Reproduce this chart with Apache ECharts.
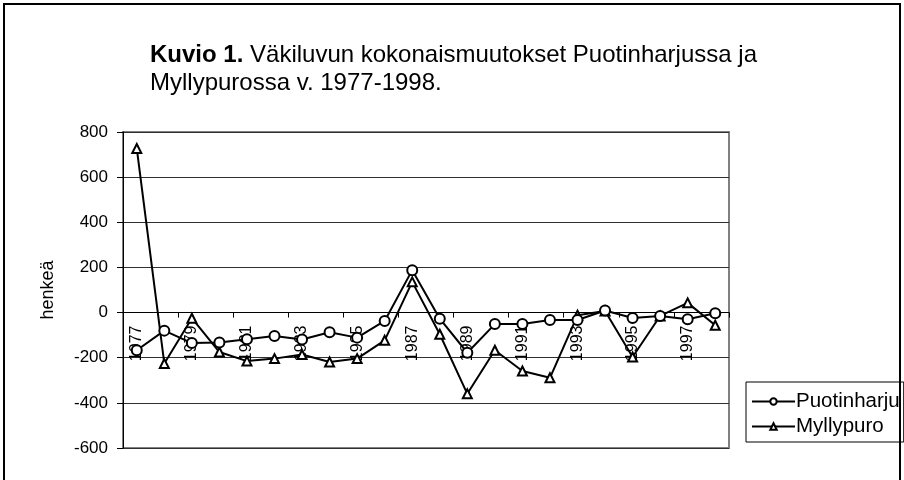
<!DOCTYPE html>
<html lang="fi">
<head>
<meta charset="UTF-8">
<title>Kuvio 1</title>
<style>
  html, body { margin: 0; padding: 0; background: #fff; }
  #main { width: 904px; height: 480px; }
</style>
</head>
<body>
<div id="main"></div>
<script src="https://cdn.jsdelivr.net/npm/echarts@6/dist/echarts.min.js"></script>
<script>
// vuodet
const years = ['1977', '1978', '1979', '1980', '1981', '1982', '1983', '1984', '1985', '1986', '1987',
  '1988', '1989', '1990', '1991', '1992', '1993', '1994', '1995', '1996', '1997', '1998'];
// väkiluvun muutos, henkeä
const puotinharju = [-167, -80, -135, -133, -118, -104, -119, -87, -111, -37, 188,
  -27, -178, -51, -51, -33, -33, 9, -24, -15, -30, -3];
const myllypuro = [727, -226, -25, -175, -215, -204, -186, -219, -204, -123, 136,
  -96, -360, -167, -259, -289, -12, 7, -197, -15, 43, -56];
const yTicks = { min: -600, max: 800, step: 200 };

const font = 'Arial, "Liberation Sans", sans-serif';
const gridTop = 132, gridBottom = 32;
const gridHeight = 480 - gridTop - gridBottom;
// vuosiakseli kulkee nollan kohdalla
const xAxisShift = -(0 - yTicks.min) / (yTicks.max - yTicks.min) * gridHeight;

const chart = echarts.init(document.getElementById('main'));

chart.setOption({
  animation: false,
  textStyle: { fontFamily: font, color: '#000' },
  title: {
    left: 145,
    top: 36,
    text: '{b|Kuvio 1.} Väkiluvun kokonaismuutokset Puotinharjussa ja\nMyllypurossa v. 1977-1998.',
    textStyle: {
      fontFamily: font, fontSize: 24, fontWeight: 'normal', color: '#000', lineHeight: 28,
      rich: { b: { fontFamily: font, fontSize: 24, fontWeight: 'bold', color: '#000', lineHeight: 28 } }
    }
  },
  graphic: [{
    type: 'rect',
    shape: { x: 4, y: 4, width: 896, height: 500 },
    style: { fill: 'none', stroke: '#000', lineWidth: 2 },
    silent: true
  }],
  legend: {
    orient: 'vertical',
    left: 746,
    top: 382,
    padding: [9, 4, 5, 5],
    itemGap: 4,
    itemWidth: 43,
    itemHeight: 8,
    borderColor: '#000',
    borderWidth: 1,
    textStyle: { fontFamily: font, fontSize: 20.5, color: '#000', padding: [0, 0, 0, -4] },
    data: ['Puotinharju', 'Myllypuro']
  },
  grid: {
    left: 123, right: 175, top: gridTop, bottom: gridBottom,
    containLabel: false,
    show: true,
    borderColor: '#808080',
    borderWidth: 2
  },
  xAxis: {
    type: 'category',
    data: years,
    boundaryGap: true,
    offset: xAxisShift,
    axisLine: { onZero: false, lineStyle: { color: '#000', width: 1 } },
    axisTick: { show: true, length: 5, lineStyle: { color: '#000' } },
    axisLabel: { interval: 1, rotate: 90, margin: 13, fontSize: 16, color: '#000', fontFamily: font },
    splitLine: { show: false }
  },
  yAxis: {
    type: 'value',
    min: yTicks.min,
    max: yTicks.max,
    interval: yTicks.step,
    name: 'henkeä',
    nameLocation: 'middle',
    nameGap: 66,
    nameTextStyle: { fontFamily: font, fontSize: 18, color: '#000' },
    axisLine: { show: true, lineStyle: { color: '#000', width: 1 } },
    axisTick: { show: true, length: 6, lineStyle: { color: '#000' } },
    axisLabel: { margin: 15, fontSize: 17, color: '#000', fontFamily: font },
    splitLine: { show: true, lineStyle: { color: '#303030', width: 1 } }
  },
  series: [
    {
      name: 'Puotinharju',
      type: 'line',
      data: puotinharju,
      symbol: 'circle',
      symbolSize: 10,
      showAllSymbol: true,
      lineStyle: { color: '#000', width: 2 },
      itemStyle: { color: '#fff', borderColor: '#000', borderWidth: 2 },
      z: 3
    },
    {
      name: 'Myllypuro',
      type: 'line',
      data: myllypuro,
      symbol: 'triangle',
      symbolSize: 9,
      showAllSymbol: true,
      lineStyle: { color: '#000', width: 2 },
      itemStyle: { color: '#fff', borderColor: '#000', borderWidth: 2 },
      z: 2
    }
  ]
});
</script>
</body>
</html>
